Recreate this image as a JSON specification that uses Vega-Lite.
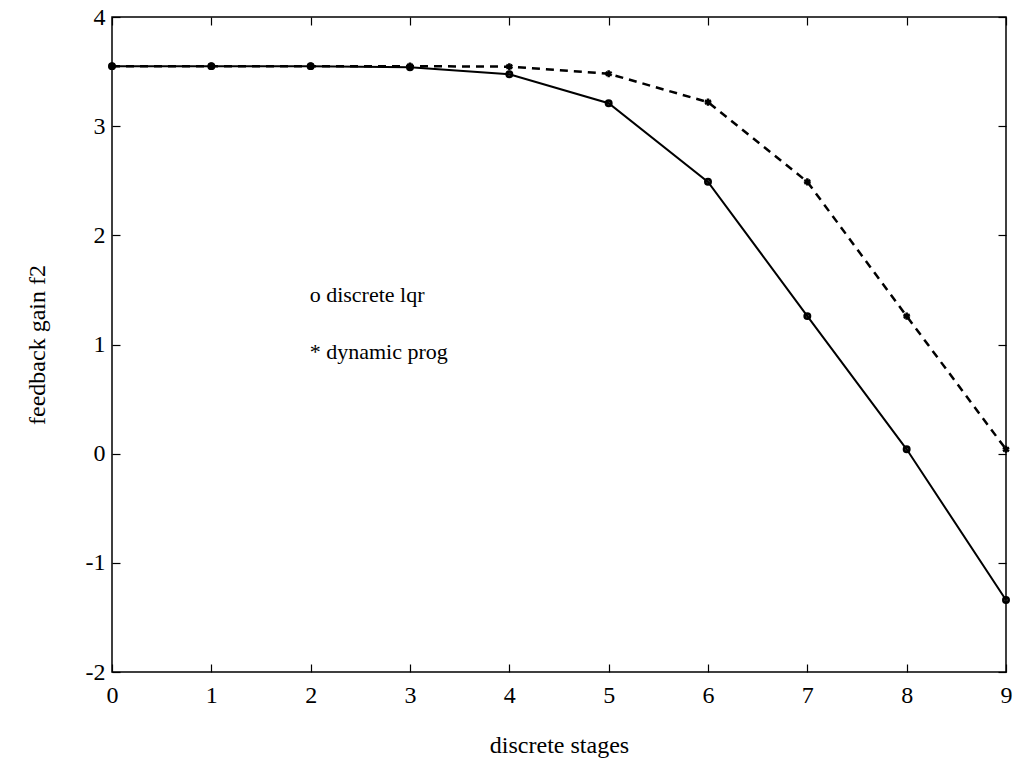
{
  "$schema": "https://vega.github.io/schema/vega-lite/v6.json",
  "width": 894,
  "height": 655,
  "autosize": {"type": "none"},
  "padding": {"left": 112, "top": 17, "right": 12, "bottom": 92},
  "background": "white",
  "config": {
    "view": {"stroke": "black", "strokeWidth": 1.5},
    "axis": {
      "grid": false,
      "domainColor": "black",
      "domainWidth": 1.5,
      "tickColor": "black",
      "tickWidth": 1.2,
      "tickSize": -8,
      "labelColor": "black",
      "labelFont": "Liberation Serif",
      "labelFontSize": 24,
      "titleFont": "Liberation Serif",
      "titleFontSize": 24,
      "titleFontWeight": "normal",
      "titleColor": "black",
      "labelFlush": false,
      "labelOverlap": false
    }
  },
  "datasets": {
    "gains": [
      {"stage": 0, "value": 3.55, "series": "lqr"},
      {"stage": 1, "value": 3.55, "series": "lqr"},
      {"stage": 2, "value": 3.55, "series": "lqr"},
      {"stage": 3, "value": 3.54, "series": "lqr"},
      {"stage": 4, "value": 3.475, "series": "lqr"},
      {"stage": 5, "value": 3.21, "series": "lqr"},
      {"stage": 6, "value": 2.49, "series": "lqr"},
      {"stage": 7, "value": 1.26, "series": "lqr"},
      {"stage": 8, "value": 0.04, "series": "lqr"},
      {"stage": 9, "value": -1.34, "series": "lqr"},
      {"stage": 0, "value": 3.55, "series": "dp"},
      {"stage": 1, "value": 3.55, "series": "dp"},
      {"stage": 2, "value": 3.55, "series": "dp"},
      {"stage": 3, "value": 3.55, "series": "dp"},
      {"stage": 4, "value": 3.545, "series": "dp"},
      {"stage": 5, "value": 3.48, "series": "dp"},
      {"stage": 6, "value": 3.22, "series": "dp"},
      {"stage": 7, "value": 2.49, "series": "dp"},
      {"stage": 8, "value": 1.26, "series": "dp"},
      {"stage": 9, "value": 0.04, "series": "dp"}
    ],
    "notes": [
      {"stage": 1.99, "value": 1.45, "label": "o discrete lqr"},
      {"stage": 1.99, "value": 0.93, "label": "* dynamic prog"}
    ]
  },
  "resolve": {"axis": {"x": "independent", "y": "independent"}},
  "layer": [
    {
      "data": {"name": "gains"},
      "transform": [{"filter": "datum.series === 'lqr'"}],
      "mark": {"type": "line", "color": "black", "strokeWidth": 2, "point": {"shape": "circle", "filled": false, "stroke": "black", "strokeWidth": 2.5, "size": 30, "fill": "black", "fillOpacity": 0.6}},
      "encoding": {
        "x": {"field": "stage", "type": "quantitative", "scale": {"domain": [0, 9], "nice": false, "zero": false},
          "axis": {"orient": "bottom", "values": [0,1,2,3,4,5,6,7,8,9], "title": "discrete stages", "titlePadding": 26, "labelPadding": 19, "domain": false}},
        "y": {"field": "value", "type": "quantitative", "scale": {"domain": [-2, 4], "nice": false, "zero": false},
          "axis": {"orient": "left", "values": [-2,-1,0,1,2,3,4], "labelExpr": "datum.value < 0 ? '-' + abs(datum.value) : '' + datum.value", "title": "feedback gain f2", "titlePadding": 36, "labelPadding": 15, "domain": false}}
      }
    },
    {
      "data": {"name": "gains"},
      "transform": [{"filter": "datum.series === 'dp'"}],
      "mark": {"type": "line", "color": "black", "strokeWidth": 2.5, "strokeDash": [8, 6], "point": {"shape": "M0,-1L0,1M-0.87,-0.5L0.87,0.5M-0.87,0.5L0.87,-0.5", "filled": false, "stroke": "black", "strokeWidth": 2.5, "size": 50}},
      "encoding": {
        "x": {"field": "stage", "type": "quantitative", "scale": {"domain": [0, 9], "nice": false, "zero": false},
          "axis": {"orient": "top", "values": [0,1,2,3,4,5,6,7,8,9], "labels": false, "title": null, "domain": false}},
        "y": {"field": "value", "type": "quantitative", "scale": {"domain": [-2, 4], "nice": false, "zero": false},
          "axis": {"orient": "right", "values": [-2,-1,0,1,2,3,4], "labels": false, "title": null, "domain": false}}
      }
    },
    {
      "data": {"name": "notes"},
      "mark": {"type": "text", "align": "left", "baseline": "middle", "font": "Liberation Serif", "fontSize": 22, "color": "black"},
      "encoding": {
        "x": {"field": "stage", "type": "quantitative", "scale": {"domain": [0, 9], "nice": false, "zero": false}, "axis": null},
        "y": {"field": "value", "type": "quantitative", "scale": {"domain": [-2, 4], "nice": false, "zero": false}, "axis": null},
        "text": {"field": "label"}
      }
    }
  ]
}
